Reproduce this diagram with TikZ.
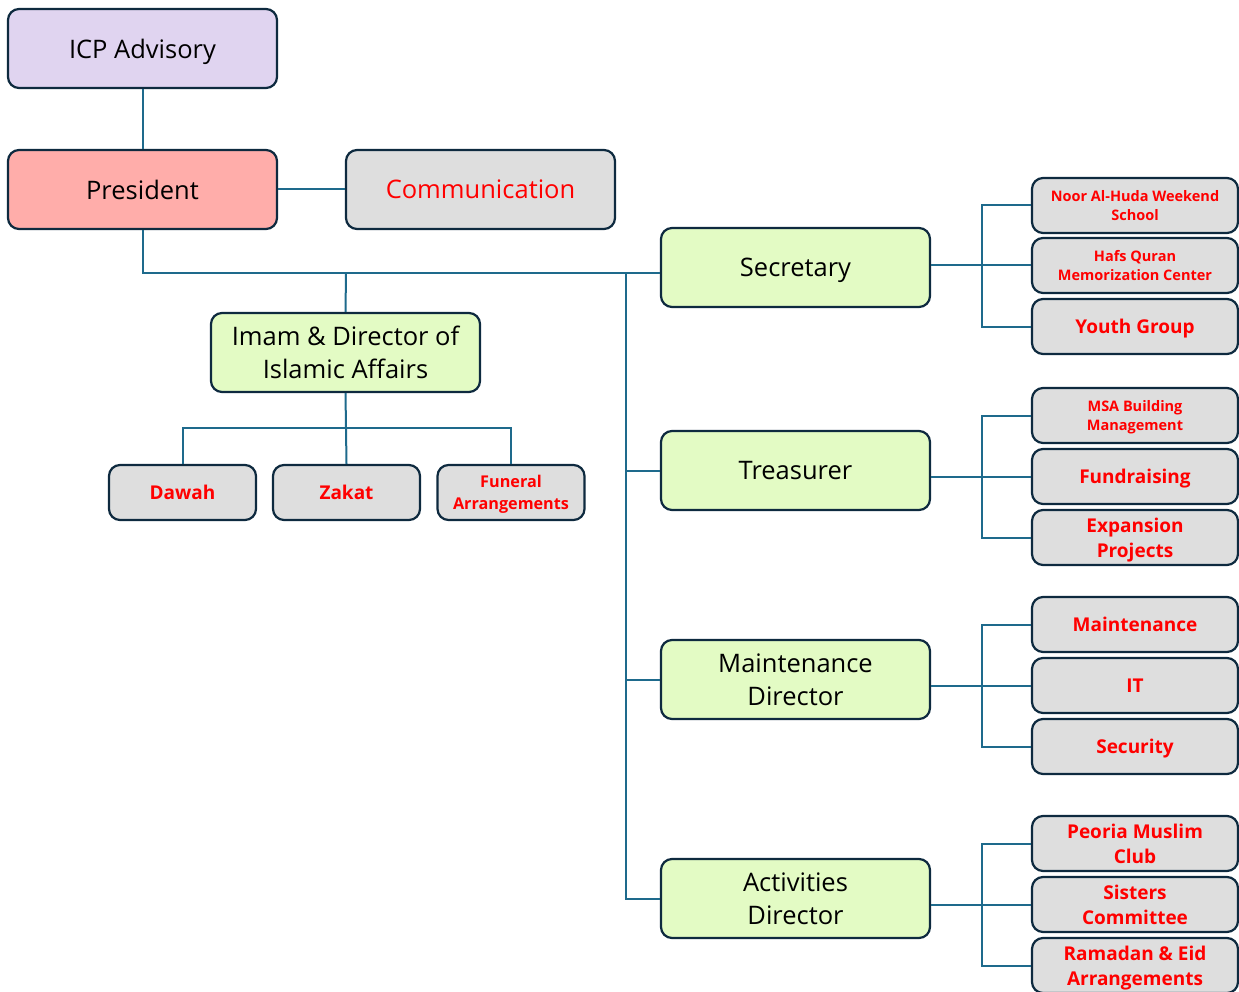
\documentclass[tikz,border=0pt]{standalone}
\usepackage{fontspec}
\setmainfont{Open Sans}
\definecolor{bordc}{HTML}{0E2A3F}
\definecolor{linec}{HTML}{1E6A8C}
\definecolor{lav}{HTML}{E0D4F0}
\definecolor{pinkc}{HTML}{FFADAA}
\definecolor{grayc}{HTML}{DEDEDE}
\definecolor{greenc}{HTML}{E3FBC4}
\definecolor{redc}{HTML}{FF0000}
\tikzset{
  box/.style={draw=bordc, line width=2.2pt, rounded corners=11pt, align=center, inner sep=0pt, text depth=0pt},
  bigbox/.style={box, minimum width=269pt, minimum height=79pt, font=\fontsize{25.5}{33}\selectfont},
  midbox/.style={box, fill=grayc, minimum width=147pt, minimum height=55pt, text=redc, font=\bfseries\fontsize{19}{25}\selectfont},
  rbox/.style={box, fill=grayc, minimum width=206pt, minimum height=55pt, text=redc, font=\bfseries\fontsize{19}{25}\selectfont},
  small/.style={font=\bfseries\fontsize{14.5}{19.5}\selectfont},
  conn/.style={draw=linec, line width=2pt},
}
\begin{document}
\begin{tikzpicture}[x=1pt,y=-1pt]
\useasboundingbox (0,0) rectangle (1239,992);
% top
\node[bigbox, fill=lav] (icp) at (142.5,48.5) {ICP Advisory};
\node[bigbox, fill=pinkc] (pres) at (142.5,189.5) {President};
\node[bigbox, fill=grayc, text=redc] (comm) at (480.5,189.5) {Communication};
% directors
\node[bigbox, fill=greenc] (sec) at (795.5,267.5) {Secretary};
\node[bigbox, fill=greenc] (tre) at (795.5,470.5) {Treasurer};
\node[bigbox, fill=greenc] (mnt) at (795.5,679.5) {Maintenance\\Director};
\node[bigbox, fill=greenc] (act) at (795.5,898.5) {Activities\\Director};
\node[bigbox, fill=greenc] (imam) at (345.5,352.5) {Imam \& Director of\\Islamic Affairs};
% imam children
\node[midbox] (dawah) at (182.5,492.5) {Dawah};
\node[midbox] (zakat) at (346.5,492.5) {Zakat};
\node[midbox, font=\bfseries\fontsize{16.2}{22}\selectfont] (fun) at (511,492.5) {Funeral\\Arrangements};
% secretary children
\node[rbox, small] (s1) at (1135,205.5) {Noor Al-Huda Weekend\\School};
\node[rbox, small] (s2) at (1135,265.5) {Hafs Quran\\Memorization Center};
\node[rbox] (s3) at (1135,326.5) {Youth Group};
% treasurer children
\node[rbox, small] (t1) at (1135,415.5) {MSA Building\\Management};
\node[rbox] (t2) at (1135,476.5) {Fundraising};
\node[rbox] (t3) at (1135,537.5) {Expansion\\Projects};
% maintenance children
\node[rbox] (m1) at (1135,624.5) {Maintenance};
\node[rbox] (m2) at (1135,685.5) {IT};
\node[rbox] (m3) at (1135,746.5) {Security};
% activities children
\node[rbox] (a1) at (1135,843.5) {Peoria Muslim\\Club};
\node[rbox] (a2) at (1135,904.5) {Sisters\\Committee};
\node[rbox] (a3) at (1135,965.5) {Ramadan \& Eid\\Arrangements};
% coordinates
\coordinate (j1) at (346,273);
\coordinate (bus) at (626,273);
\coordinate (ij) at (346,428);
\coordinate (jx) at (982,0);
% connectors
\draw[conn] (icp.south) -- (pres.north);
\draw[conn] (pres.east) -- (comm.west);
\draw[conn] (pres.south) |- (j1) -- (sec.west |- j1);
\draw[conn] (j1) -- (imam.north);
\draw[conn] (bus) |- (act.west);
\draw[conn] (bus |- tre.west) -- (tre.west);
\draw[conn] (bus |- mnt.west) -- (mnt.west);
\draw[conn] (imam.south) -- (zakat.north);
\draw[conn] (dawah.north) |- (ij) -| (fun.north);
\foreach \p/\a/\b/\c in {sec/s1/s2/s3, tre/t1/t2/t3, mnt/m1/m2/m3, act/a1/a2/a3}{
  \draw[conn] (\b.west -| \p.east) -- (\b.west);
  \draw[conn] (\a.west) -- (\a.west -| jx) -- (\c.west -| jx) -- (\c.west);
}
\end{tikzpicture}
\end{document}
